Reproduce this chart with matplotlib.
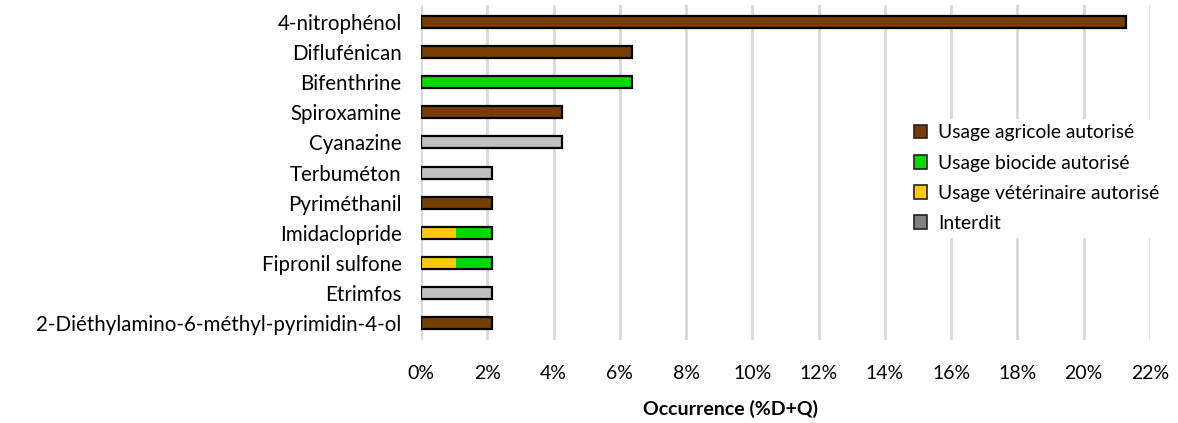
import matplotlib.pyplot as plt
import numpy as np
from matplotlib.patches import Patch

plt.rcParams['font.family'] = ['Lato', 'DejaVu Sans']

# donnees (% D+Q)
substances = ['4-nitrophénol', 'Diflufénican', 'Bifenthrine', 'Spiroxamine', 'Cyanazine',
              'Terbuméton', 'Pyriméthanil', 'Imidaclopride', 'Fipronil sulfone', 'Etrimfos',
              '2-Diéthylamino-6-méthyl-pyrimidin-4-ol']
agricole = [21.28, 6.38, 0, 4.26, 0, 0, 2.13, 0, 0, 0, 2.13]
veterinaire = [0, 0, 0, 0, 0, 0, 0, 1.06, 1.06, 0, 0]
biocide = [0, 0, 6.38, 0, 0, 0, 0, 1.07, 1.07, 0, 0]
interdit = [0, 0, 0, 0, 4.26, 2.13, 0, 0, 0, 2.13, 0]

legend_labels = ['Usage agricole autorisé', 'Usage biocide autorisé',
                 'Usage vétérinaire autorisé', 'Interdit']
c_agri = '#763C00'
c_bio = '#00DA00'
c_vet = '#FFC90E'
c_int_bar = '#C0C0C0'
c_int_leg = '#808080'

fig = plt.figure(figsize=(11.78, 4.23), dpi=100)
ax = fig.add_axes([0.3574, 0.196, 0.6188, 0.792])

y = np.arange(len(substances))
h = 0.4
agri = np.array(agricole)
vet = np.array(veterinaire)
bio = np.array(biocide)
inter = np.array(interdit)

# segments sans contour puis contour global
ax.barh(y, agri, h, color=c_agri, edgecolor='none', zorder=3)
ax.barh(y, vet, h, left=agri, color=c_vet, edgecolor='none', zorder=3)
ax.barh(y, bio, h, left=agri + vet, color=c_bio, edgecolor='none', zorder=3)
ax.barh(y, inter, h, left=agri + vet + bio, color=c_int_bar, edgecolor='none', zorder=3)
total = agri + vet + bio + inter
ax.barh(y, total, h, facecolor='none', edgecolor='black', linewidth=1.6, zorder=4)

ax.set_xlim(0, 22)
ax.set_ylim(len(substances) - 0.44, -0.56)
ax.set_xticks(np.arange(0, 23, 2))
ax.set_xticklabels([f'{v}%' for v in range(0, 23, 2)])
ax.set_yticks(y)
ax.set_yticklabels(substances)
ax.tick_params(axis='both', length=0, colors='black')
ax.tick_params(axis='x', pad=18, labelsize=14)
ax.tick_params(axis='y', pad=14, labelsize=14.8)
ax.grid(axis='x', color='#D9D9D9', linewidth=2, zorder=0)
for s in ax.spines.values():
    s.set_visible(False)

ax.set_xlabel('Occurrence (%D+Q)', fontsize=14, fontweight='bold')
ax.xaxis.set_label_coords(0.424, -0.18)

handles = [Patch(facecolor=c, edgecolor='#222222', linewidth=1.2)
           for c in [c_agri, c_bio, c_vet, c_int_leg]]
leg = ax.legend(handles, legend_labels, loc='upper left', bbox_to_anchor=(0.655, 0.69),
                frameon=True, facecolor='white', edgecolor='none', framealpha=1,
                fontsize=13.9, handlelength=0.7, handleheight=0.7, handletextpad=0.55,
                labelspacing=0.68, borderpad=0.3)

fig.savefig('out.png', dpi=100)
